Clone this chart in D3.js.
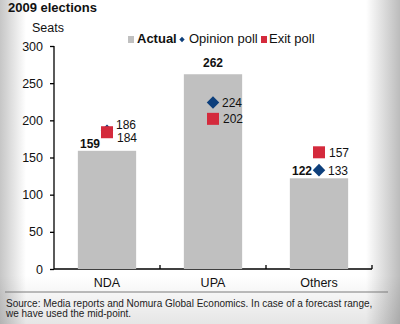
<!DOCTYPE html>
<html>
<head>
<meta charset="utf-8">
<script src="https://cdn.jsdelivr.net/npm/d3@7"></script>
<style>
  body { margin: 0; padding: 0; }
  svg { display: block; font-family: Arial, "Liberation Sans", sans-serif; }
</style>
</head>
<body>
<svg id="chart" width="400" height="324"></svg>
<script>
/********** Data **********/
var categories = ["NDA", "UPA", "Others"];
var actual = [159, 262, 122];
var opinionPoll = [186, 224, 133];
var exitPoll = [184, 202, 157];
var yTicks = [0, 50, 100, 150, 200, 250, 300];

var svg = d3.select("#chart"),
    width = +svg.attr("width"),
    height = +svg.attr("height");

var margin = {top: 46, right: 28, bottom: 55, left: 54};

// background: grey fade on the sides and bottom
var defs = svg.append("defs");
var hg = defs.append("linearGradient").attr("id", "bgH").attr("x1", 0).attr("x2", 1).attr("y1", 0).attr("y2", 0);
hg.append("stop").attr("offset", 0).attr("stop-color", "#c6c6c6");
hg.append("stop").attr("offset", 0.065).attr("stop-color", "#ffffff");
hg.append("stop").attr("offset", 0.915).attr("stop-color", "#ffffff");
hg.append("stop").attr("offset", 1).attr("stop-color", "#bcbcbc");
var vg = defs.append("linearGradient").attr("id", "bgV").attr("x1", 0).attr("x2", 0).attr("y1", 0).attr("y2", 1);
vg.append("stop").attr("offset", 0.85).attr("stop-color", "#000").attr("stop-opacity", 0);
vg.append("stop").attr("offset", 1).attr("stop-color", "#000").attr("stop-opacity", 0.1);

svg.append("rect").attr("width", width).attr("height", height).attr("fill", "url(#bgH)");
svg.append("rect").attr("width", width).attr("height", height).attr("fill", "url(#bgV)");

/********** Scales **********/
var x = d3.scaleBand()
    .domain(categories)
    .range([margin.left, width - margin.right])
    .padding(0);

var y = d3.scaleLinear()
    .domain([0, 300])
    .range([height - margin.bottom, margin.top]);

var barW = x.bandwidth() * 0.55;
var cx = function(d) { return x(d) + x.bandwidth() / 2; };

/********** Title **********/
svg.append("text")
    .attr("x", 8).attr("y", 12)
    .attr("font-size", 13).attr("font-weight", "bold").attr("fill", "#111")
    .text("2009 elections");

svg.append("text")
    .attr("x", 32).attr("y", 32)
    .attr("font-size", 12.5).attr("fill", "#111")
    .text("Seats");

/********** Axes **********/
var yAxis = svg.append("g")
    .attr("transform", "translate(" + margin.left + ",0)")
    .call(d3.axisLeft(y).tickValues(yTicks).tickSize(4).tickPadding(7));

var xAxis = svg.append("g")
    .attr("transform", "translate(0," + y(0) + ")")
    .call(d3.axisBottom(x).tickSize(0).tickPadding(9));

[yAxis, xAxis].forEach(function(g) {
    g.select(".domain").attr("stroke", "#000").attr("stroke-width", 1.3);
    g.selectAll(".tick line").attr("stroke", "#000").attr("stroke-width", 1.3);
    g.selectAll("text").attr("font-size", 12.5).attr("fill", "#111")
        .attr("font-family", "Arial, 'Liberation Sans', sans-serif");
});
yAxis.select(".domain").attr("d", "M0," + y(0) + "V" + y(300));
xAxis.select(".domain").attr("d", "M" + x.range()[0] + ",0H" + x.range()[1]);

// upward ticks on category boundaries
xAxis.selectAll(".sep")
    .data(categories.slice(1).concat(["end"]))
    .enter().append("line")
    .attr("x1", function(d) { return d === "end" ? x.range()[1] : x(d); })
    .attr("x2", function(d) { return d === "end" ? x.range()[1] : x(d); })
    .attr("y1", 0).attr("y2", -4)
    .attr("stroke", "#000").attr("stroke-width", 1.3);

/********** Bars **********/
svg.selectAll(".bar")
    .data(categories)
    .enter().append("rect")
    .attr("class", "bar")
    .attr("x", function(d) { return cx(d) - barW / 2; })
    .attr("width", barW)
    .attr("y", function(d, i) { return y(actual[i]); })
    .attr("height", function(d, i) { return y(0) - y(actual[i]); })
    .attr("fill", "#c0c0c0");

// actual labels: above bar, or to the left when the polls sit above it
svg.selectAll(".actLabel")
    .data(categories)
    .enter().append("text")
    .attr("font-size", 12).attr("font-weight", "bold").attr("fill", "#111")
    .each(function(d, i) {
        var above = opinionPoll[i] > actual[i] || exitPoll[i] > actual[i];
        var t = d3.select(this).text(actual[i]);
        if (above) {
            t.attr("x", cx(d) - 7).attr("y", y(actual[i]) - 3).attr("text-anchor", "end");
        } else {
            t.attr("x", cx(d)).attr("y", y(actual[i]) - 7).attr("text-anchor", "middle");
        }
    });

/********** Markers **********/
var diamond = d3.symbol().type(d3.symbolDiamond2).size(100);

svg.selectAll(".opinion")
    .data(categories)
    .enter().append("path")
    .attr("d", diamond)
    .attr("transform", function(d, i) { return "translate(" + cx(d) + "," + y(opinionPoll[i]) + ")"; })
    .attr("fill", "#0d3f7c");

svg.selectAll(".exit")
    .data(categories)
    .enter().append("rect")
    .attr("x", function(d) { return cx(d) - 6; })
    .attr("y", function(d, i) { return y(exitPoll[i]) - 6; })
    .attr("width", 12).attr("height", 12)
    .attr("fill", "#d42a3c");

// poll labels, pushed apart when too close
categories.forEach(function(d, i) {
    var a = y(opinionPoll[i]), b = y(exitPoll[i]);
    if (Math.abs(a - b) < 13) {
        var mid = (a + b) / 2, s = a <= b ? -1 : 1;
        a = mid + s * 6.5;
        b = mid - s * 6.5;
    }
    svg.append("text")
        .attr("x", cx(d) + 9).attr("y", a + 4.5)
        .attr("font-size", 12).attr("fill", "#111")
        .text(opinionPoll[i]);
    svg.append("text")
        .attr("x", cx(d) + 10).attr("y", b + 4.5)
        .attr("font-size", 12).attr("fill", "#111")
        .text(exitPoll[i]);
});

/********** Legend **********/
var legend = svg.append("g").attr("font-size", 13).attr("fill", "#111");

legend.append("rect").attr("x", 128).attr("y", 36).attr("width", 6).attr("height", 7).attr("fill", "#c0c0c0");
legend.append("text").attr("x", 137).attr("y", 43).attr("font-weight", "bold").text("Actual");
legend.append("path").attr("d", d3.symbol().type(d3.symbolDiamond2).size(18))
    .attr("transform", "translate(182,39.5)").attr("fill", "#0d3f7c");
legend.append("text").attr("x", 189).attr("y", 43).text("Opinion poll");
legend.append("rect").attr("x", 261).attr("y", 36).attr("width", 6).attr("height", 7).attr("fill", "#d42a3c");
legend.append("text").attr("x", 269).attr("y", 43).text("Exit poll");

/********** Footer **********/
svg.append("line")
    .attr("x1", 5).attr("x2", 388).attr("y1", 292).attr("y2", 292)
    .attr("stroke", "#7a7a7a").attr("stroke-width", 1);

var source = svg.append("text").attr("font-size", 10).attr("fill", "#222");
source.append("tspan").attr("x", 6).attr("y", 306.5)
    .text("Source: Media reports and Nomura Global Economics. In case of a forecast range,");
source.append("tspan").attr("x", 6).attr("y", 316.5)
    .text("we have used the mid-point.");
</script>
</body>
</html>
